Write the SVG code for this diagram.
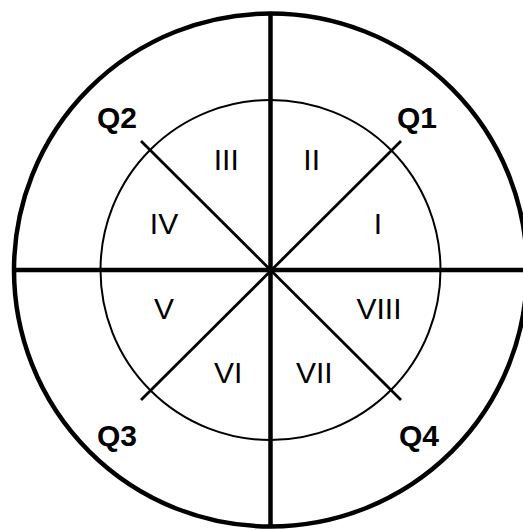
<svg xmlns="http://www.w3.org/2000/svg" width="523" height="530" viewBox="0 0 523 530">
<style>
.outer{fill:none;stroke:#000;stroke-width:4.5}
.inner{fill:none;stroke:#000;stroke-width:2}
.axis{stroke:#000;stroke-width:4.5}
.diag{stroke:#000;stroke-width:2.8}
.q{font-family:"Liberation Sans",Arial,sans-serif;font-size:30px;font-weight:bold;text-anchor:middle;fill:#000}
.r{font-family:"Liberation Sans",Arial,sans-serif;font-size:30px;text-anchor:middle;fill:#000}
</style>
<rect width="523" height="530" fill="#fff"/>
<g id="outer-circle"><circle class="outer" cx="270.5" cy="270" r="256.5"/></g>
<g id="inner-circle"><circle class="inner" cx="270.5" cy="270" r="170"/></g>
<g id="connectors">
<line class="axis" x1="270.5" y1="13" x2="270.5" y2="527"/>
<line class="axis" x1="13" y1="270" x2="523" y2="270"/>
<line class="diag" x1="141" y1="141" x2="401" y2="400"/>
<line class="diag" x1="401" y1="141" x2="141" y2="400"/>
</g>
<g id="q1"><text class="q" x="417" y="128">Q1</text></g>
<g id="q2"><text class="q" x="117" y="128">Q2</text></g>
<g id="q3"><text class="q" x="117" y="446">Q3</text></g>
<g id="q4"><text class="q" x="419" y="446">Q4</text></g>
<g id="s1"><text class="r" x="378" y="234">I</text></g>
<g id="s2"><text class="r" x="311.7" y="170">II</text></g>
<g id="s3"><text class="r" x="226.3" y="170">III</text></g>
<g id="s4"><text class="r" x="164" y="234">IV</text></g>
<g id="s5"><text class="r" x="164" y="319">V</text></g>
<g id="s6"><text class="r" x="228.3" y="383">VI</text></g>
<g id="s7"><text class="r" x="314.3" y="383">VII</text></g>
<g id="s8"><text class="r" x="379" y="319">VIII</text></g>
</svg>
